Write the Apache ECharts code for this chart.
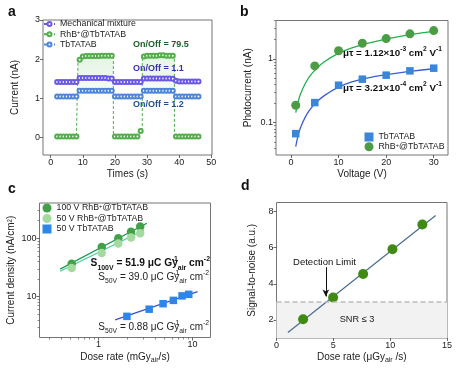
<!DOCTYPE html>
<html><head><meta charset="utf-8">
<script src="https://cdn.jsdelivr.net/npm/echarts@6/dist/echarts.min.js"></script>
<style>html,body{margin:0;padding:0;background:#fff}#c{width:457px;height:369px}</style>
</head><body><div id="c"></div>
<script>
// ---------- Panel a: current vs time ----------
const timeA = [2,3,4,5,6,7,8,9,10,11,12,13,14,15,16,17,18,19,20,21,22,23,24,25,26,27,28,29,30,31,32,33,34,35,36,37,38,39,40,41,42,43,44,45,46];
const mixA = [1.42,1.42,1.42,1.42,1.42,1.42,1.42, 1.52,1.52,1.52,1.52,1.52,1.52,1.52,1.52,1.52,1.51,1.51, 1.42,1.42,1.42,1.42,1.42,1.42,1.42,1.42,1.42, 1.51,1.51,1.51,1.51,1.51,1.51,1.51,1.51,1.51, 1.50, 1.45, 1.43,1.43,1.43,1.43,1.43,1.43,1.43];
const rhbA = [0.03,0.03,0.03,0.03,0.03,0.03,0.03, 1.99, 2.07,2.08,2.08,2.08,2.08,2.08,2.09,2.09,2.09,2.09, 0.03,0.03,0.03,0.03,0.03,0.03,0.03,0.03, 0.17, 2.07,2.09,2.09,2.09,2.09,2.10,2.10,2.09,2.09,2.09, 0.03,0.03,0.03,0.03,0.03,0.03,0.03,0.03];
const tbA = [1.05,1.05,1.05,1.05,1.05,1.05,1.05, 1.2,1.2,1.2,1.2,1.2,1.2,1.2,1.2,1.2,1.2,1.2, 1.05,1.05,1.05,1.05,1.05,1.05,1.05,1.05,1.05, 1.2,1.2,1.2,1.2,1.2,1.2,1.2,1.2,1.2,1.2, 1.05,1.05,1.05,1.05,1.05,1.05,1.05,1.05];
const ticksA_x = [0,10,20,30,40,50];
const ticksA_y = [0,1,2,3];

// ---------- Panel b: photocurrent vs voltage ----------
const voltB = [1,5,10,15,20,25,30];
const tbB = [0.067,0.206,0.386,0.48,0.555,0.648,0.714];
const rhbB = [0.187,0.776,1.34,1.76,2.08,2.47,2.78];
const fitVoltB = [1,1.5,2,3,4,5,7,10,13,16,20,25,30];
const tbFitB = [0.042,0.063,0.083,0.122,0.16,0.197,0.265,0.36,0.44,0.5,0.565,0.635,0.7];
const rhbFitB = [0.143,0.21,0.28,0.41,0.54,0.66,0.9,1.22,1.5,1.75,2.05,2.4,2.7];
const ticksB_x = [0,10,20,30];
const ticksB_y = [0.1,1];
const minorB_y = [0.04,0.05,0.06,0.07,0.08,0.09,0.2,0.3,0.4,0.5,0.6,0.7,0.8,0.9,2,3,4];

// ---------- Panel c: current density vs dose rate ----------
const doseC = [0.517,1.08,1.62,2.21,2.77];
const c100 = [36.4,71,100,129,158];
const c50r = [31,55.9,81,103,121];
const doseCT = [2.0,3.45,4.85,6.24,7.72,9.1];
const c50t = [4.6,6.1,7.57,8.63,10.3,10.95];
const fitC100_x = [0.39,3.26], fitC100_y = [29.5,180];
const fitC50r_x = [0.39,3.05], fitC50r_y = [27.2,138];
const fitC50t_x = [1.5,11.3], fitC50t_y = [4.0,12.2];
const ticksC_x = [1,10];
const minorC_x = [0.3,0.4,0.5,0.6,0.7,0.8,0.9,2,3,4,5,6,7,8,9];
const ticksC_y = [10,100];
const minorC_y = [3,4,5,6,7,8,9,20,30,40,50,60,70,80,90,200,300];

// ---------- Panel d: SNR vs dose rate ----------
const doseD = [2.34,4.98,7.62,10.2,12.83];
const snrD = [2.04,3.24,4.54,5.91,7.28];
const fitD_x = [1,14], fitD_y = [1.3,7.78];
const ticksD_y = [2,4,6,8];

const FONT = '"Liberation Sans", Arial, Helvetica, sans-serif';
const zip = (a,b) => a.map((v,i)=>[v,b[i]]);

function merge(t, s){ for (const k in s){ if (s[k] && typeof s[k]==='object' && !Array.isArray(s[k]) && !(s[k] instanceof echarts.graphic.LinearGradient) && t[k] && typeof t[k]==='object' && !Array.isArray(t[k])) merge(t[k], s[k]); else t[k]=s[k]; } return t; }
const nameRich = {sub:{fontSize:7, verticalAlign:'bottom', lineHeight:8, fontFamily:FONT, color:'#222'}, sup:{fontSize:7, verticalAlign:'top', lineHeight:8, fontFamily:FONT, color:'#222'}};
function ax(o){
  return merge({
    axisLine:{show:false, onZero:false},
    axisTick:{show:true, length:3, lineStyle:{color:'#444', width:0.8}},
    axisLabel:{fontSize:9, color:'#222', margin:3, fontFamily:FONT},
    splitLine:{show:false},
    nameLocation:'middle',
    nameTextStyle:{fontSize:10, color:'#222', fontFamily:FONT, lineHeight:13, rich:nameRich}
  }, o);
}
function minorAx(o){
  return merge({
    axisLine:{show:false, onZero:false},
    axisTick:{show:true, length:2, lineStyle:{color:'#555', width:0.7}},
    axisLabel:{show:false}, splitLine:{show:false}
  }, o);
}

const gridStyle = {show:true, borderColor:'#757575', borderWidth:1, backgroundColor:'transparent', containLabel:false};
const grids = [
  merge({left:43, top:20, width:169, height:135}, gridStyle),
  merge({left:276, top:20.5, width:172, height:134.5}, gridStyle),
  merge({left:39.5, top:203, width:171, height:134.5}, gridStyle),
  merge({left:276.5, top:202.5, width:170.5, height:135.5}, gridStyle)
];

const PURPLE='#6a58e6', GREEN_A='#52ad4a', BLUE_A='#4d86d8';

const xAxes = [
  ax({gridIndex:0, type:'value', min:-2.4, max:50.2, name:'Times (s)', nameGap:12, axisTick:{customValues:ticksA_x}, axisLabel:{customValues:ticksA_x}}),
  ax({gridIndex:1, type:'value', min:-3.15, max:33, name:'Voltage (V)', nameGap:12, axisTick:{customValues:ticksB_x}, axisLabel:{customValues:ticksB_x}}),
  ax({gridIndex:2, type:'log', min:0.235, max:15.5, name:'Dose rate (mGy{sub|air}/s)', nameGap:12, axisTick:{customValues:ticksC_x}, axisLabel:{customValues:ticksC_x}}),
  ax({gridIndex:3, type:'value', min:0, max:15, interval:5, name:'Dose rate (μGy{sub|air} /s)', nameGap:12}),
  minorAx({gridIndex:2, type:'log', min:0.235, max:15.5, position:'bottom', axisTick:{customValues:minorC_x}})
];
const yAxes = [
  ax({gridIndex:0, type:'value', min:-0.44, max:3, name:'Current (nA)', nameGap:21, axisTick:{customValues:ticksA_y}, axisLabel:{customValues:ticksA_y}}),
  ax({gridIndex:1, type:'log', min:0.031, max:4, name:'Photocurrent (nA)', nameGap:21, axisTick:{customValues:ticksB_y}, axisLabel:{customValues:ticksB_y}}),
  ax({gridIndex:2, type:'log', min:2, max:400, name:'Current density (nA/cm²)', nameGap:18, axisTick:{customValues:ticksC_y}, axisLabel:{customValues:ticksC_y}}),
  ax({gridIndex:3, type:'value', min:1, max:8.5, name:'Signal-to-noise (a.u.)', nameGap:18, axisTick:{customValues:ticksD_y}, axisLabel:{customValues:ticksD_y}}),
  minorAx({gridIndex:1, type:'log', min:0.031, max:4, position:'left', axisTick:{customValues:minorB_y}}),
  minorAx({gridIndex:2, type:'log', min:2, max:400, position:'left', axisTick:{customValues:minorC_y}})
];

const legendNames = {
  a_mix:'Mechanical mixture', a_rhb:'RhB{sup|+}@TbTATAB', a_tb:'TbTATAB',
  b_tb:'TbTATAB', b_rhb:'RhB{sup|+}@TbTATAB',
  c_100:'100 V RhB{sup|+}@TbTATAB', c_50r:'50 V RhB{sup|+}@TbTATAB', c_50t:'50 V TbTATAB'
};
const legendText = (fs, lh) => ({fontSize:fs, color:'#222', fontFamily:FONT, lineHeight:lh, rich:{sup:{fontSize:5.8, verticalAlign:'top', lineHeight:6, fontFamily:FONT, color:'#222'}}});

function aLine(name, data, color, extra){
  return merge({name, type:'line', xAxisIndex:0, yAxisIndex:0, data, step:'middle', symbol:'emptyCircle', symbolSize:4, showSymbol:true,
    lineStyle:{type:[3,2], width:1, color}, itemStyle:{color, borderColor:color, borderWidth:0.9}, z:3, animation:false}, extra||{});
}

const option = {
  animation:false,
  backgroundColor:'#fff',
  grid: grids,
  xAxis: xAxes,
  yAxis: yAxes,
  legend: [
    {data:['a_mix','a_rhb','a_tb'], orient:'vertical', left:43, top:19, itemWidth:11, itemHeight:5, itemGap:0.3, formatter:n=>legendNames[n], textStyle:legendText(8.8, 10), padding:0},
    {data:[{name:'b_tb', icon:'rect'},{name:'b_rhb', icon:'circle'}], orient:'vertical', left:364.5, top:132.5, itemWidth:9, itemHeight:9, itemGap:0.7, formatter:n=>legendNames[n], textStyle:legendText(8.8, 9), padding:0},
    {data:[{name:'c_100', icon:'circle'},{name:'c_50r', icon:'circle'},{name:'c_50t', icon:'rect'}], orient:'vertical', left:42.5, top:203.5, itemWidth:9, itemHeight:9, itemGap:1.5, formatter:n=>legendNames[n], textStyle:legendText(8.8, 9), padding:0}
  ],
  series: [
    aLine('a_mix', zip(timeA, mixA), PURPLE),
    aLine('a_rhb', zip(timeA, rhbA), GREEN_A, {areaStyle:{color:new echarts.graphic.LinearGradient(0,0,0,1,[{offset:0,color:'rgba(130,205,130,0.32)'},{offset:0.6,color:'rgba(130,205,130,0.0)'}])}}),
    aLine('a_tb', zip(timeA, tbA), BLUE_A),

    {name:'b_fit_rhb', type:'line', xAxisIndex:1, yAxisIndex:1, data:zip(fitVoltB, rhbFitB), smooth:true, showSymbol:false, lineStyle:{color:'#22b14f', width:1.3}, z:2},
    {name:'b_fit_tb', type:'line', xAxisIndex:1, yAxisIndex:1, data:zip(fitVoltB, tbFitB), smooth:true, showSymbol:false, lineStyle:{color:'#3a5fd0', width:1.3}, z:2},
    {name:'b_tb', type:'scatter', xAxisIndex:1, yAxisIndex:1, data:zip(voltB, tbB), symbol:'rect', symbolSize:7.5, itemStyle:{color:'#3a86d8', opacity:1}, z:3},
    {name:'b_rhb', type:'scatter', xAxisIndex:1, yAxisIndex:1, data:zip(voltB, rhbB), symbol:'circle', symbolSize:9, itemStyle:{color:'#4e9b45', opacity:1}, z:3},

    {name:'c_fit_100', type:'line', xAxisIndex:2, yAxisIndex:2, data:zip(fitC100_x, fitC100_y), showSymbol:false, lineStyle:{color:'#1a9a4e', width:1.3}, z:2},
    {name:'c_fit_50r', type:'line', xAxisIndex:2, yAxisIndex:2, data:zip(fitC50r_x, fitC50r_y), showSymbol:false, lineStyle:{color:'#45cf9c', width:1.3}, z:2},
    {name:'c_fit_50t', type:'line', xAxisIndex:2, yAxisIndex:2, data:zip(fitC50t_x, fitC50t_y), showSymbol:false, lineStyle:{color:'#3a52cc', width:1.3}, z:2},
    {name:'c_100', type:'scatter', xAxisIndex:2, yAxisIndex:2, data:zip(doseC, c100), symbol:'circle', symbolSize:8.5, itemStyle:{color:'#42a048', opacity:1}, z:3},
    {name:'c_50r', type:'scatter', xAxisIndex:2, yAxisIndex:2, data:zip(doseC, c50r), symbol:'circle', symbolSize:8.5, itemStyle:{color:'#a4d9a0', opacity:1}, z:3},
    {name:'c_50t', type:'scatter', xAxisIndex:2, yAxisIndex:2, data:zip(doseCT, c50t), symbol:'rect', symbolSize:7.5, itemStyle:{color:'#2d87ea', opacity:1}, z:3},

    {name:'d_marks', type:'line', xAxisIndex:3, yAxisIndex:3, data:[], z:1, silent:true,
      markArea:{silent:true, itemStyle:{color:'#f2f2f2'}, data:[[{yAxis:1},{yAxis:3}]]},
      markLine:{silent:true, symbol:['none','none'], label:{show:false}, lineStyle:{color:'#bdbdbd', type:[5,3], width:1.5}, data:[{yAxis:3}]}},
    {name:'d_fit', type:'line', xAxisIndex:3, yAxisIndex:3, data:zip(fitD_x, fitD_y), showSymbol:false, lineStyle:{color:'#4a6b90', width:1.2}, z:2,
      markLine:{silent:true, symbol:['none','arrow'], symbolSize:[5,7], label:{show:false}, lineStyle:{color:'#111', type:'solid', width:1}, data:[[{coord:[4.34,4.92]},{coord:[4.34,3.3]}]]}},
    {name:'d_pts', type:'scatter', xAxisIndex:3, yAxisIndex:3, data:zip(doseD, snrD), symbol:'circle', symbolSize:10, itemStyle:{color:'#3f8a12', opacity:1}, z:3}
  ],
  graphic: []
};

const supS = (fs, bold, color) => ({fontSize:fs*0.68, fontWeight:bold?'bold':'normal', verticalAlign:'top', lineHeight:fs*0.8, fontFamily:FONT, fill:color});
const subS = (fs, bold, color) => ({fontSize:fs*0.68, fontWeight:bold?'bold':'normal', verticalAlign:'bottom', lineHeight:fs*0.8, fontFamily:FONT, fill:color});
function txt(x, y, text, fs, opts){
  opts = opts || {};
  const color = opts.color || '#222', bold = !!opts.bold;
  return {type:'text', x, y, silent:true, z:100, style:{text, fontSize:fs, fontWeight:bold?'bold':'normal', fontFamily:FONT, fill:color,
    align:opts.align||'left', verticalAlign:'middle', lineHeight:fs*1.5,
    rich:{sup:supS(fs,bold,color), sub:subS(fs,bold,color), sup0:merge(supS(fs,bold,color),{width:0})}}};
}
option.graphic = [
  txt(8, 12, 'a', 14, {bold:true, color:'#111'}),
  txt(240, 12, 'b', 14, {bold:true, color:'#111'}),
  txt(8, 189, 'c', 14, {bold:true, color:'#111'}),
  txt(241, 186, 'd', 14, {bold:true, color:'#111'}),
  txt(133, 44.5, 'On/Off = 79.5', 9, {bold:true, color:'#1d5e2a'}),
  txt(133, 68.5, 'On/Off = 1.1', 9, {bold:true, color:'#3a2fb3'}),
  txt(133, 105, 'On/Off = 1.2', 9, {bold:true, color:'#1f4f93'}),
  txt(343, 53.5, 'μτ = 1.12×10{sup|-3} cm{sup|2} V{sup|-1}', 9.8, {bold:true, color:'#111'}),
  txt(343, 88.5, 'μτ = 3.21×10{sup|-4} cm{sup|2} V{sup|-1}', 9.8, {bold:true, color:'#111'}),
  txt(210, 263.5, 'S{sub|100V} = 51.9 μC Gy{sup0|-1}{sub|air} cm{sup|-2}', 10.2, {bold:true, color:'#111', align:'right'}),
  txt(209, 277, 'S{sub|50V} = 39.0 μC Gy{sup0|-1}{sub|air} cm{sup|-2}', 10, {color:'#222', align:'right'}),
  txt(209, 327, 'S{sub|50V} = 0.88 μC Gy{sup0|-1}{sub|air} cm{sup|-2}', 10, {color:'#222', align:'right'}),
  txt(324.5, 262.5, 'Detection Limit', 9.5, {color:'#111', align:'center'}),
  txt(357, 319, 'SNR ≤ 3', 9.2, {color:'#222', align:'center'})
];

const chart = echarts.init(document.getElementById('c'), null, {renderer:'canvas', width:457, height:369});
chart.setOption(option);
</script>
</body></html>
